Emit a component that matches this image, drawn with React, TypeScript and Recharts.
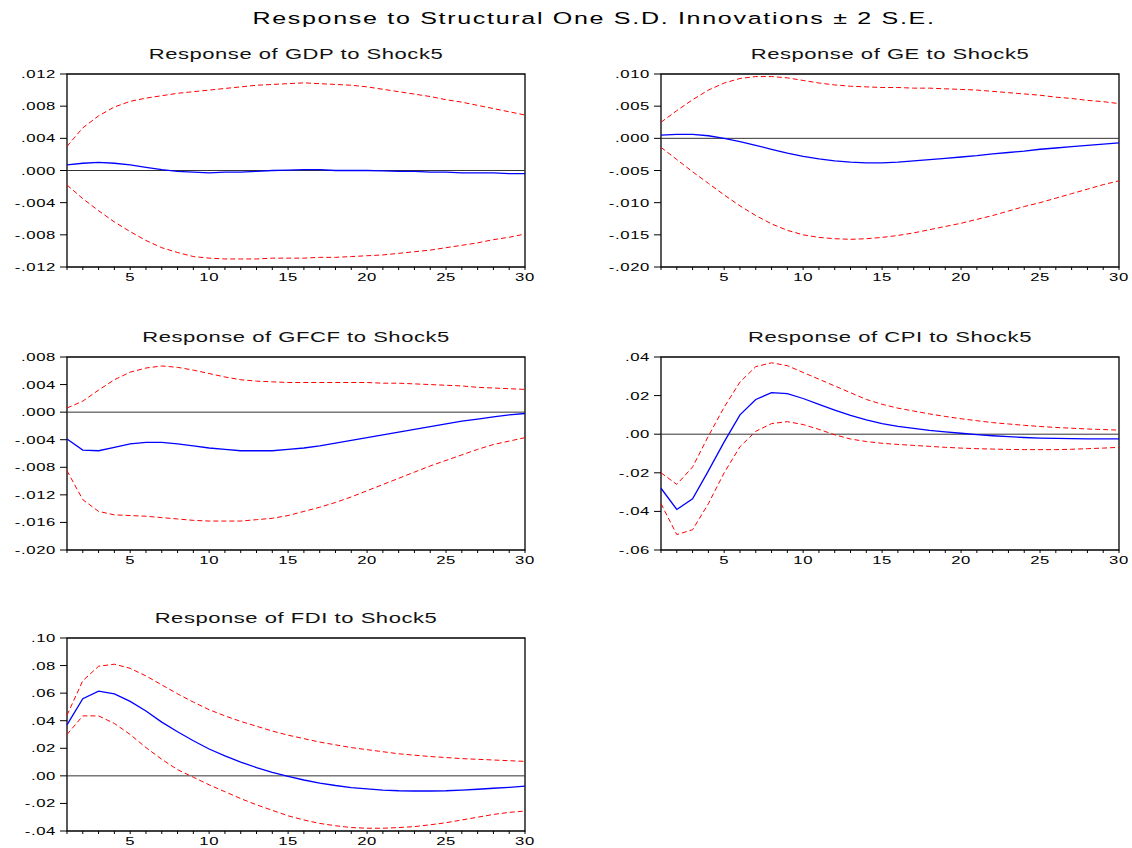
import { LineChart, Line, XAxis, YAxis, ReferenceLine, ReferenceArea } from 'recharts';

const horizons = Array.from({ length: 30 }, (_, i) => i + 1);

const gdpUp = [0.003, 0.0053, 0.0068, 0.0079, 0.0086, 0.009, 0.0093, 0.0096, 0.0098, 0.01, 0.0102, 0.0104, 0.0106, 0.0107, 0.0108, 0.0109, 0.0108, 0.0107, 0.0106, 0.0104, 0.0101, 0.0098, 0.0095, 0.0092, 0.0088, 0.0085, 0.0081, 0.0077, 0.0073, 0.0069];
const gdpMid = [0.0007, 0.0009, 0.001, 0.0009, 0.0007, 0.0004, 0.0001, -0.0001, -0.0002, -0.0003, -0.0002, -0.0002, -0.0001, 0, 0.00005, 0.0001, 0.0001, 0, 0, 0, -0.00005, -0.0001, -0.0001, -0.0002, -0.0002, -0.0003, -0.0003, -0.0003, -0.0004, -0.0004];
const gdpLo = [-0.0018, -0.0035, -0.005, -0.0064, -0.0076, -0.0087, -0.0096, -0.0102, -0.0107, -0.0109, -0.011, -0.011, -0.011, -0.0109, -0.0109, -0.0109, -0.0108, -0.0108, -0.0107, -0.0106, -0.0105, -0.0103, -0.0101, -0.0099, -0.0096, -0.0093, -0.009, -0.0086, -0.0083, -0.0079];

const geUp = [0.0025, 0.0043, 0.006, 0.0075, 0.0086, 0.0093, 0.0096, 0.0096, 0.0094, 0.009, 0.0086, 0.0083, 0.0081, 0.008, 0.0079, 0.0079, 0.0078, 0.0078, 0.0077, 0.0076, 0.0075, 0.0073, 0.0071, 0.0069, 0.0067, 0.0064, 0.0062, 0.0059, 0.0057, 0.0054];
const geMid = [0.0005, 0.0006, 0.0006, 0.0004, 0, -0.0005, -0.0011, -0.0017, -0.0023, -0.0028, -0.0032, -0.0035, -0.0037, -0.0038, -0.0038, -0.0037, -0.0035, -0.0033, -0.0031, -0.0029, -0.0027, -0.0024, -0.0022, -0.002, -0.0017, -0.0015, -0.0013, -0.0011, -0.0009, -0.0007];
const geLo = [-0.0014, -0.0033, -0.0052, -0.007, -0.0088, -0.0105, -0.012, -0.0133, -0.0143, -0.015, -0.0154, -0.0156, -0.0157, -0.0156, -0.0154, -0.0151, -0.0147, -0.0142, -0.0137, -0.0132, -0.0126, -0.012, -0.0113, -0.0106, -0.01, -0.0093, -0.0086, -0.0079, -0.0072, -0.0066];

const gfcfUp = [0.0006, 0.0016, 0.0032, 0.0047, 0.0058, 0.0064, 0.0067, 0.0065, 0.0061, 0.0056, 0.0051, 0.0047, 0.0045, 0.0044, 0.0043, 0.0043, 0.0043, 0.0043, 0.0043, 0.0043, 0.0042, 0.0042, 0.0041, 0.004, 0.0039, 0.0038, 0.0036, 0.0035, 0.0034, 0.0033];
const gfcfMid = [-0.0039, -0.0055, -0.0056, -0.0051, -0.0046, -0.0044, -0.0044, -0.0046, -0.0049, -0.0052, -0.0054, -0.0056, -0.0056, -0.0056, -0.0054, -0.0052, -0.0049, -0.0045, -0.0041, -0.0037, -0.0033, -0.0029, -0.0025, -0.0021, -0.0017, -0.0013, -0.001, -0.0007, -0.0004, -0.0002];
const gfcfLo = [-0.0085, -0.0127, -0.0144, -0.0149, -0.015, -0.0151, -0.0153, -0.0155, -0.0157, -0.0158, -0.0158, -0.0158, -0.0156, -0.0154, -0.015, -0.0144, -0.0138, -0.0131, -0.0123, -0.0114, -0.0105, -0.0096, -0.0087, -0.0078, -0.007, -0.0062, -0.0054, -0.0047, -0.0042, -0.0037];

const cpiUp = [-0.02, -0.026, -0.017, -0.001, 0.014, 0.027, 0.035, 0.037, 0.0355, 0.032, 0.0285, 0.025, 0.0215, 0.018, 0.0155, 0.0135, 0.012, 0.0105, 0.0092, 0.008, 0.007, 0.006, 0.0053, 0.0046, 0.004, 0.0035, 0.0031, 0.0027, 0.0024, 0.0021];
const cpiMid = [-0.028, -0.039, -0.0335, -0.019, -0.004, 0.01, 0.018, 0.0215, 0.021, 0.0185, 0.0155, 0.0125, 0.0097, 0.0074, 0.0055, 0.0041, 0.003, 0.002, 0.0012, 0.0005, -0.0002, -0.0008, -0.0013, -0.0017, -0.002, -0.0022, -0.0023, -0.0024, -0.0024, -0.0024];
const cpiLo = [-0.036, -0.052, -0.0495, -0.036, -0.02, -0.0065, 0.0015, 0.0055, 0.0065, 0.005, 0.0025, -0.0003, -0.0025, -0.0038, -0.0047, -0.0053, -0.0058, -0.0063, -0.0068, -0.0072, -0.0075, -0.0077, -0.0079, -0.008, -0.008, -0.008, -0.0078, -0.0075, -0.0072, -0.0068];

const fdiUp = [0.044, 0.069, 0.0795, 0.081, 0.078, 0.0725, 0.066, 0.0595, 0.0535, 0.048, 0.0435, 0.0395, 0.036, 0.0325, 0.0295, 0.027, 0.0245, 0.0225, 0.0205, 0.019, 0.0175, 0.016, 0.015, 0.014, 0.0133, 0.0125, 0.012, 0.0115, 0.011, 0.0105];
const fdiMid = [0.037, 0.056, 0.0615, 0.0595, 0.054, 0.047, 0.039, 0.032, 0.0255, 0.0195, 0.0145, 0.01, 0.006, 0.0025, -0.0003, -0.003, -0.0052, -0.007, -0.0085, -0.0095, -0.0103, -0.0108, -0.011, -0.011, -0.0108, -0.0103, -0.0097, -0.009, -0.0083, -0.0075];
const fdiLo = [0.03, 0.0435, 0.0435, 0.038, 0.03, 0.0205, 0.012, 0.0045, -0.001, -0.0065, -0.0115, -0.0165, -0.021, -0.025, -0.029, -0.032, -0.0345, -0.0362, -0.0375, -0.038, -0.038, -0.0375, -0.0368, -0.0355, -0.034, -0.032, -0.03, -0.028, -0.0265, -0.0255];

const gdpTicks = [-0.012, -0.008, -0.004, 0, 0.004, 0.008, 0.012];
const geTicks = [-0.02, -0.015, -0.01, -0.005, 0, 0.005, 0.01];
const gfcfTicks = [-0.02, -0.016, -0.012, -0.008, -0.004, 0, 0.004, 0.008];
const cpiTicks = [-0.06, -0.04, -0.02, 0, 0.02, 0.04];
const fdiTicks = [-0.04, -0.02, 0, 0.02, 0.04, 0.06, 0.08, 0.1];

const FONT = '"Liberation Sans", Arial, sans-serif';
const STRETCH = 1.52;
const BOX_W = 458;
const BOX_H = 193;
const AXIS_W = 66;
const TOP = 5;

const fmt = (v: number, dec: number) => {
  const s = Math.abs(v).toFixed(dec).replace(/^0/, '');
  return (v < -1e-9 ? '-' : '') + s;
};

function YTick(props: any) {
  const { x, y, payload, dec } = props;
  return (
    <text transform={`translate(${x},${y + 4}) scale(${STRETCH},1)`} textAnchor="end" fontSize={11} fontFamily={FONT} fill="#000" letterSpacing={0.4}>
      {fmt(payload.value, dec)}
    </text>
  );
}

function XTick(props: any) {
  const { x, y, payload } = props;
  if (payload.value % 5 !== 0) return null;
  return (
    <text transform={`translate(${x},${y + 9}) scale(${STRETCH},1)`} textAnchor="middle" fontSize={11} fontFamily={FONT} fill="#000" letterSpacing={0.4}>
      {payload.value}
    </text>
  );
}

type PanelProps = {
  name: string;
  up: number[];
  mid: number[];
  lo: number[];
  ticks: number[];
  dec: number;
  boxLeft: number;
  boxTop: number;
};

function Panel({ name, up, mid, lo, ticks, dec, boxLeft, boxTop }: PanelProps) {
  const data = horizons.map((h, i) => ({ h, up: up[i], mid: mid[i], lo: lo[i] }));
  const yMin = ticks[0];
  const yMax = ticks[ticks.length - 1];
  return (
    <>
      <svg style={{ position: 'absolute', left: boxLeft - 100, top: boxTop - 30, overflow: 'visible' }} width={BOX_W + 200} height={30}>
        <text transform={`translate(${100 + BOX_W / 2},14.5) scale(${STRETCH},1)`} textAnchor="middle" fontSize={14.5} fontFamily={FONT} fill="#111" letterSpacing={0.35}>
          Response of {name} to Shock5
        </text>
      </svg>
      <div style={{ position: 'absolute', left: boxLeft - AXIS_W, top: boxTop - TOP }}>
        <LineChart width={AXIS_W + BOX_W + 15} height={TOP + BOX_H + 22} data={data} margin={{ top: TOP, right: 15, left: 0, bottom: 0 }}>
          <XAxis
            dataKey="h"
            type="number"
            domain={[1, 30]}
            ticks={horizons}
            interval={0}
            height={22}
            tickSize={3}
            tickMargin={2}
            axisLine={false}
            tickLine={{ stroke: '#000' }}
            tick={<XTick />}
          />
          <YAxis
            type="number"
            domain={[yMin, yMax]}
            ticks={ticks}
            interval={0}
            width={AXIS_W}
            tickSize={7}
            tickMargin={4}
            axisLine={false}
            tickLine={{ stroke: '#000' }}
            tick={<YTick dec={dec} />}
          />
          <ReferenceArea x1={1} x2={30} y1={yMin} y2={yMax} fill="none" stroke="#000" strokeWidth={1.3} fillOpacity={0} />
          <ReferenceLine y={0} stroke="#333" strokeWidth={1} />
          <Line type="linear" dataKey="up" stroke="#ff0000" strokeWidth={1} strokeDasharray="5 3" dot={false} isAnimationActive={false} />
          <Line type="linear" dataKey="lo" stroke="#ff0000" strokeWidth={1} strokeDasharray="5 3" dot={false} isAnimationActive={false} />
          <Line type="linear" dataKey="mid" stroke="#0000ff" strokeWidth={1.3} dot={false} isAnimationActive={false} />
        </LineChart>
      </div>
    </>
  );
}

export default function App() {
  const leftX = 67;
  const rightX = 661;
  return (
    <div style={{ position: 'absolute', left: 0, top: 0, width: 1132, height: 848, background: '#fff', overflow: 'hidden' }}>
      <svg style={{ position: 'absolute', left: 0, top: 0 }} width={1132} height={40}>
        <text transform={`translate(594,24) scale(${STRETCH},1)`} textAnchor="middle" fontSize={16.5} fontFamily={FONT} fill="#000" letterSpacing={1.1}>
          Response to Structural One S.D. Innovations ± 2 S.E.
        </text>
      </svg>
      <Panel name="GDP" up={gdpUp} mid={gdpMid} lo={gdpLo} ticks={gdpTicks} dec={3} boxLeft={leftX} boxTop={73.5} />
      <Panel name="GE" up={geUp} mid={geMid} lo={geLo} ticks={geTicks} dec={3} boxLeft={rightX} boxTop={73.5} />
      <Panel name="GFCF" up={gfcfUp} mid={gfcfMid} lo={gfcfLo} ticks={gfcfTicks} dec={3} boxLeft={leftX} boxTop={357} />
      <Panel name="CPI" up={cpiUp} mid={cpiMid} lo={cpiLo} ticks={cpiTicks} dec={2} boxLeft={rightX} boxTop={357} />
      <Panel name="FDI" up={fdiUp} mid={fdiMid} lo={fdiLo} ticks={fdiTicks} dec={2} boxLeft={leftX} boxTop={638} />
    </div>
  );
}
